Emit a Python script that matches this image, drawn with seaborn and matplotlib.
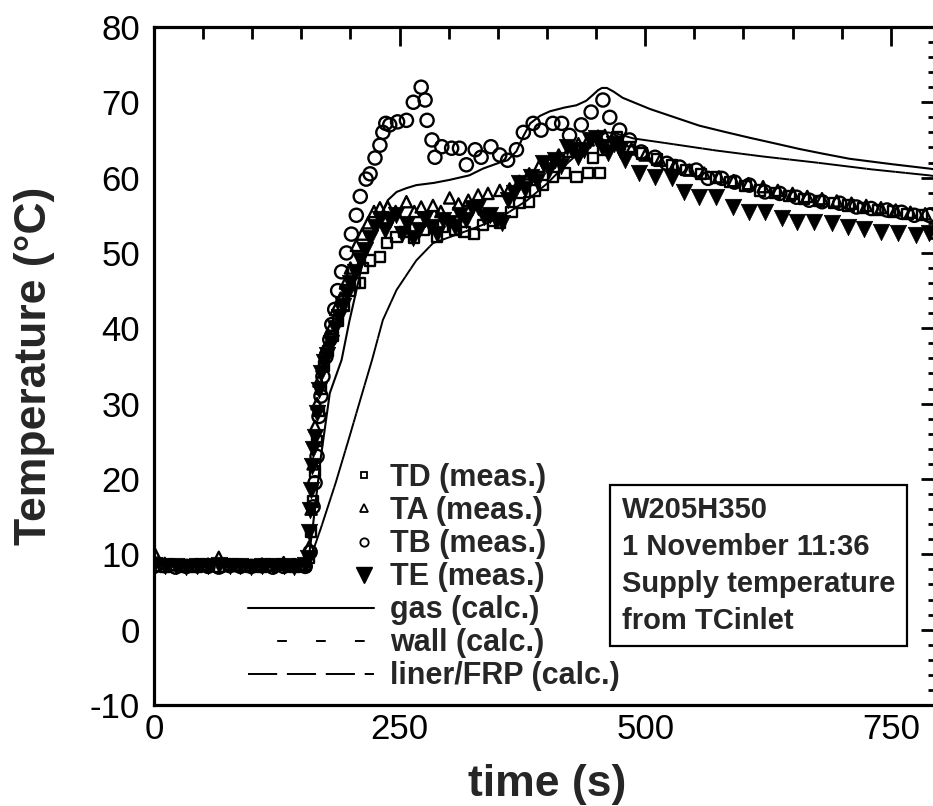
import matplotlib
matplotlib.use("Agg")
import matplotlib.pyplot as plt
from matplotlib.lines import Line2D
from matplotlib.legend_handler import HandlerLine2DCompound
from matplotlib.ticker import MultipleLocator
import numpy as np
import seaborn as sns

# --- measured temperatures (time in s, temperature in degC) ---
td_t = [0, 11, 22, 33, 44, 55, 66, 77, 88, 99, 110, 121, 132, 143, 154,
        158, 160, 162, 164, 166, 168, 170, 173, 177, 182, 187, 193, 199, 205,
        210, 213, 220, 230, 237, 247, 255, 265, 275, 288, 294, 307, 316, 326,
        335, 345, 352, 364, 372, 382, 388, 396, 406, 418, 430, 442, 447, 454,
        457, 471, 484,
        497, 512, 527, 542, 557, 572, 587, 602, 617, 632, 647, 662, 677, 692,
        707, 722, 737, 752, 767, 782]
td_T = [8.5, 8.4, 8.6, 8.4, 8.3, 8.5, 8.4, 8.6, 8.5, 8.3, 8.4, 8.5, 8.6, 8.4, 8.5,
        9.5, 13.0, 17.0, 21.0, 25.0, 29.0, 32.0, 35.0, 37.0, 39.0, 41.0, 43.0, 45.0, 46.0,
        46.0, 48.0, 49.0, 49.5, 51.3, 52.1, 52.8, 52.0, 53.0, 52.1, 53.5, 53.0, 52.8, 52.5,
        53.7, 54.2, 54.0, 55.4, 56.6, 56.8, 58.3, 59.0, 60.1, 60.6, 60.1, 60.6, 62.6, 60.6,
        63.7, 65.4, 64.1,
        63.2, 62.4, 61.7, 61.0, 60.5, 60.0, 59.4, 58.9, 58.3, 58.0, 57.6, 57.2, 56.9, 56.6,
        56.3, 56.0, 55.7, 55.5, 55.2, 55.0]

ta_t = [0, 11, 22, 33, 44, 55, 66, 77, 88, 99, 110, 121, 132, 143, 154,
        158, 160, 162, 164, 166, 168, 171, 175, 180, 185, 190, 195, 200,
        206, 212, 218, 224, 230, 238, 246, 257, 265, 272, 284, 292, 301, 310,
        320, 330, 340, 352, 362, 372, 382, 392, 402, 412, 422, 432, 442, 452,
        459, 466, 474,
        486, 500, 515, 530, 545, 560, 575, 590, 605, 620, 635, 650, 665, 680,
        695, 710, 725, 740, 755, 770, 785]
ta_T = [10.3, 8.8, 8.6, 8.5, 8.6, 8.7, 9.6, 8.5, 8.6, 8.5, 8.7, 8.6, 8.9, 8.5, 8.7,
        11.0, 16.0, 22.0, 27.0, 30.0, 33.0, 35.0, 37.5, 40.0, 42.5, 44.0, 46.0, 48.0,
        51.0, 52.5, 54.0, 55.5, 56.0, 56.1, 55.5, 56.8, 55.5, 56.1, 56.3, 55.5, 57.3, 56.5,
        57.0, 57.7, 57.9, 58.3, 58.5, 59.5, 60.5, 61.5, 62.0, 63.0, 63.5, 64.5, 65.0, 65.5,
        65.6, 65.0, 64.5,
        63.8, 63.0, 62.3, 61.6, 61.0, 60.6, 60.1, 59.6, 59.2, 58.8, 58.3, 57.9, 57.5, 57.2,
        56.9, 56.6, 56.3, 56.0, 55.7, 55.4, 55.2]

tb_t = [0, 11, 22, 33, 44, 55, 66, 77, 88, 99, 110, 121, 132, 143, 154,
        159, 162, 164, 166, 168, 170, 172, 175, 179, 181, 184, 187, 191, 196, 201, 206,
        210, 216, 220, 225, 230, 233, 236, 240, 248, 257, 264, 272, 276, 278, 283, 286,
        293, 303, 311, 318, 327, 333, 343, 352, 360, 369, 376, 386, 394, 406, 415, 423,
        435, 445, 457, 464, 474,
        484, 496, 510, 522, 535, 552, 564, 578, 591, 606, 622, 637, 654, 667, 680,
        698, 715, 730, 746, 761, 774, 789]
tb_T = [8.4, 8.5, 8.3, 8.4, 8.5, 8.4, 8.3, 8.5, 8.4, 8.4, 8.5, 8.3, 8.4, 8.5, 8.4,
        10.3, 16.3, 19.5, 23.0, 28.3, 31.0, 33.6, 36.2, 38.5, 40.5, 42.5, 45.0, 47.5, 50.0, 52.5, 55.0,
        57.5, 59.8, 60.5, 62.6, 64.3, 66.0, 67.2, 67.0, 67.4, 67.6, 70.0, 72.0, 70.3, 67.6, 65.0, 62.7,
        64.1, 63.9, 63.9, 61.7, 63.7, 62.7, 64.1, 63.0, 62.3, 63.7, 66.0, 67.2, 66.3, 67.2, 67.2, 65.6,
        67.0, 68.7, 70.3, 68.0, 66.3,
        65.0, 63.4, 62.7, 61.9, 61.4, 61.0, 59.9, 59.9, 59.4, 59.0, 58.1, 57.9, 57.4, 57.0, 56.8,
        56.6, 56.1, 55.9, 55.7, 55.4, 55.0, 55.0]

te_t = [0, 11, 22, 33, 44, 55, 66, 77, 88, 99, 110, 121, 132, 143, 154,
        157, 158, 159, 160, 161, 162, 164, 166, 168, 170, 173, 176,
        180, 184, 188, 192, 196, 200, 205, 210, 215, 220, 225, 230, 235, 240,
        246, 252, 258, 264, 270, 276, 282, 288, 294, 300, 306, 312, 318, 324,
        330, 336, 342, 348, 354, 360, 366, 372, 378, 384, 390, 396, 402, 408,
        414, 420, 426, 432, 438, 444, 450, 456, 462, 468, 474,
        479, 494, 510, 527, 540, 555, 572, 589, 606, 622, 639, 655, 672, 690,
        706, 723, 740, 757, 776, 789]
te_T = [8.6, 8.4, 8.5, 8.3, 8.5, 8.4, 8.6, 8.4, 8.5, 8.3, 8.4, 8.5, 8.4, 8.3, 8.6,
        9.5, 12.9, 15.9, 18.6, 21.7, 24.0, 25.6, 28.8, 31.8, 34.0, 35.5, 36.5,
        38.0, 40.0, 41.5, 43.0, 44.5, 46.0, 47.5, 49.0, 50.4, 52.0, 53.4, 54.5, 53.0, 54.4,
        55.0, 52.5, 53.9, 52.0, 53.0, 54.5, 53.5, 52.5, 54.4, 54.0, 53.5, 55.0, 54.4, 56.0,
        56.1, 54.8, 55.0, 54.4, 54.0, 57.0, 58.0, 59.3, 58.5, 60.1, 59.5, 61.9, 61.0, 62.3,
        61.5, 64.1, 63.7, 62.8, 63.7, 65.0, 65.2, 64.0, 63.2, 64.5, 63.7,
        62.3, 60.6, 60.1, 59.9, 58.1, 57.4, 57.4, 56.1, 55.4, 55.4, 54.6, 54.1, 54.1, 54.0,
        53.4, 53.2, 52.8, 52.6, 52.4, 52.6]

# --- calculated temperatures ---
gas_t = [0, 155, 158, 162, 170, 179, 191, 199, 213, 222, 230, 238, 247, 257, 267, 285,
         301, 321, 335, 352, 360, 369, 376, 383, 393, 403, 418, 430, 440, 447, 452, 456,
         461, 468, 477, 490, 505, 530, 555, 580, 606, 630, 657, 680, 708, 750, 789, 800]
gas_T = [9.0, 9.0, 10.0, 14.0, 23.0, 31.4, 35.8, 41.0, 49.0, 52.5, 54.8, 57.0, 58.1, 58.6, 59.0, 59.3,
         59.7, 60.3, 61.2, 62.0, 62.3, 63.5, 65.5, 67.2, 68.2, 68.8, 69.3, 69.6, 70.2, 71.0, 71.6, 71.9,
         71.9, 71.4, 70.6, 69.9, 69.1, 68.0, 66.9, 66.1, 65.3, 64.6, 63.8, 63.2, 62.5, 61.8, 61.2, 61.0]

# wall and liner/FRP curves lie on top of each other in the figure
wall_t = [0, 158, 170, 185, 199, 210, 222, 233, 247, 267, 284, 301, 320, 340, 360,
          380, 400, 420, 440, 455, 462, 472, 488, 520, 572, 620, 674, 730, 789, 800]
wall_T = [9.0, 9.0, 13.5, 19.5, 25.6, 30.5, 35.8, 41.1, 45.1, 49.0, 51.3, 52.1, 53.0, 54.0, 55.3,
          57.0, 59.2, 61.8, 64.2, 65.7, 66.0, 65.8, 65.2, 64.6, 63.6, 62.8, 62.0, 61.1, 60.3, 60.1]
liner_t = wall_t
liner_T = wall_T

legend_labels = ["TD (meas.)", "TA (meas.)", "TB (meas.)", "TE (meas.)",
                 "gas (calc.)", "wall (calc.)", "liner/FRP (calc.)"]
note = "W205H350\n1 November 11:36\nSupply temperature\nfrom TCinlet"

WALL_DASH = (5, (5, 15))
LINER_DASH = (0, (15, 5))


class MarkerAtRight(HandlerLine2DCompound):
    # legend marker sits at the right end of the handle, next to the text
    def get_xdata(self, legend, xdescent, ydescent, width, height, fontsize):
        xdata = np.array([-xdescent, -xdescent + width])
        return xdata, np.array([-xdescent + width - 0.3 * fontsize])


sns.set_style("white")
plt.rcParams["font.family"] = ["Liberation Sans", "DejaVu Sans"]
plt.rcParams["axes.unicode_minus"] = False

fig = plt.figure(figsize=(9.33, 8.06), dpi=100)
ax = fig.add_axes([0.165, 0.1253, 0.8424, 0.8413])

# --- calculated curves ---
sns.lineplot(x=gas_t, y=gas_T, ax=ax, color="black", linewidth=1.5,
             estimator=None, sort=False)
sns.lineplot(x=wall_t, y=wall_T, ax=ax, color="black", linewidth=1.4,
             linestyle=WALL_DASH, estimator=None, sort=False)
sns.lineplot(x=liner_t, y=liner_T, ax=ax, color="black", linewidth=1.4,
             linestyle=LINER_DASH, estimator=None, sort=False)

# --- measured points ---
open_kw = dict(color="black", facecolor="none", edgecolor="black", linewidth=1.7, ax=ax)
sns.scatterplot(x=td_t, y=td_T, marker="s", s=55, **open_kw)
sns.scatterplot(x=ta_t, y=ta_T, marker="^", s=65, **open_kw)
sns.scatterplot(x=tb_t, y=tb_T, marker="o", s=90, **open_kw)
sns.scatterplot(x=te_t, y=te_T, marker="v", s=140, color="black",
                edgecolor="black", linewidth=0.5, ax=ax)

# --- axes ---
ax.set_xlim(0, 800)
ax.set_ylim(-10, 80)
ax.xaxis.set_major_locator(MultipleLocator(250))
ax.xaxis.set_minor_locator(MultipleLocator(50))
ax.yaxis.set_major_locator(MultipleLocator(10))
ax.yaxis.set_minor_locator(MultipleLocator(2))
ax.tick_params(which="both", direction="in", top=True, right=True, colors="black")
ax.tick_params(which="major", length=14, width=2, labelsize=25)
ax.tick_params(which="minor", length=8.5, width=2)
ax.tick_params(axis="x", pad=6)
ax.tick_params(axis="y", pad=10)
for sp in ax.spines.values():
    sp.set_linewidth(2.3)
    sp.set_color("black")

ax.set_xlabel("time (s)", fontsize=32, fontweight="bold")
ax.set_ylabel("Temperature (°C)", fontsize=32, fontweight="bold")
ax.xaxis.set_label_coords(0.5, -0.087)
ax.yaxis.set_label_coords(-0.126, 0.5)

# --- legend ---
handles = [
    Line2D([], [], ls="none", marker="s", ms=5, mfc="none", mec="black", mew=1.3),
    Line2D([], [], ls="none", marker="^", ms=6, mfc="none", mec="black", mew=1.3),
    Line2D([], [], ls="none", marker="o", ms=6, mfc="none", mec="black", mew=1.3),
    Line2D([], [], ls="none", marker="v", ms=11, mfc="black", mec="black"),
    Line2D([], [], color="black", lw=1.5),
    Line2D([], [], color="black", lw=1.4, ls=WALL_DASH),
    Line2D([], [], color="black", lw=1.4, ls=LINER_DASH),
]
hmap = {h: MarkerAtRight() for h in handles[:4]}
ax.legend(handles, legend_labels, handler_map=hmap, loc="lower left",
          bbox_to_anchor=(0.12, 0.02), frameon=False, borderpad=0,
          borderaxespad=0, handlelength=4.1, handletextpad=0.55, labelspacing=0.1,
          prop={"family": "Liberation Sans", "weight": "bold", "size": 22})

# --- annotation box ---
ax.text(0.5954, 0.3078, note, transform=ax.transAxes, ha="left", va="top",
        fontsize=21, fontweight="bold", linespacing=1.4,
        bbox=dict(boxstyle="square,pad=0.4", fc="white", ec="black", lw=1.6))

fig.savefig("out.png", dpi=100)
